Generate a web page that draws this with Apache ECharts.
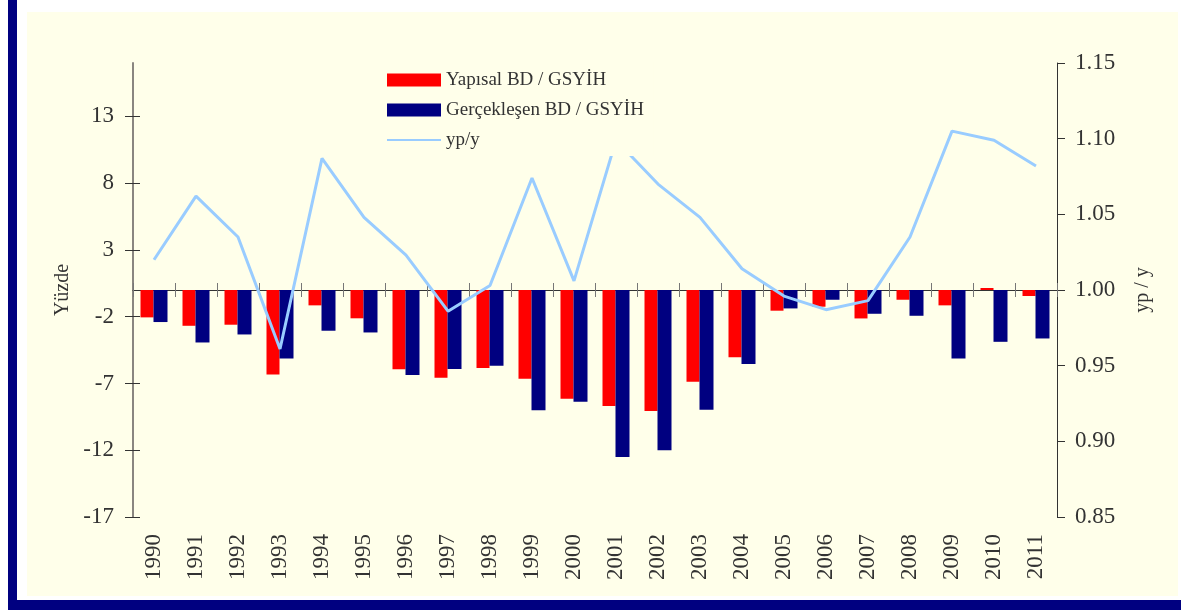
<!DOCTYPE html>
<html>
<head>
<meta charset="utf-8">
<script src="https://cdn.jsdelivr.net/npm/echarts@6/dist/echarts.min.js"></script>
<style>
    html, body { margin: 0; padding: 0; background: #ffffff; }
    #frame { position: relative; width: 1181px; height: 610px; overflow: hidden; }
    #bar-left { position: absolute; left: 8px; top: 0; width: 9px; height: 610px; background: #000080; }
    #bar-bottom { position: absolute; left: 8px; top: 600px; width: 1173px; height: 10px; background: #000080; }
    #panel { position: absolute; left: 27px; top: 12px; width: 1151px; height: 584px; background: #FFFFEA; }
    #chart { position: absolute; left: 0; top: 0; width: 1181px; height: 610px; }
</style>
</head>
<body>
<div id="frame">
    <div id="bar-left"></div>
    <div id="bar-bottom"></div>
    <div id="panel"></div>
    <div id="chart"></div>
</div>
<script>
var years = ['1990', '1991', '1992', '1993', '1994', '1995', '1996', '1997', '1998', '1999', '2000',
    '2001', '2002', '2003', '2004', '2005', '2006', '2007', '2008', '2009', '2010', '2011'];

// Yapısal BD / GSYİH (%)
var yapisal = [-2.05, -2.68, -2.60, -6.33, -1.15, -2.12, -5.93, -6.58, -5.85, -6.64, -8.15,
    -8.68, -9.07, -6.88, -5.03, -1.55, -1.25, -2.13, -0.73, -1.15, 0.15, -0.45];

// Gerçekleşen BD / GSYİH (%)
var gerceklesen = [-2.40, -3.93, -3.33, -5.13, -3.05, -3.18, -6.36, -5.92, -5.67, -9.00, -8.36,
    -12.50, -12.00, -8.97, -5.55, -1.38, -0.73, -1.78, -1.93, -5.13, -3.88, -3.63];

// yp/y (sağ eksen)
var ypy = [1.020, 1.062, 1.035, 0.961, 1.087, 1.048, 1.023, 0.986, 1.003, 1.074, 1.006,
    1.099, 1.070, 1.048, 1.014, 0.996, 0.987, 0.993, 1.035, 1.105, 1.099, 1.082];

var leftTicks = [-17, -12, -7, -2, 3, 8, 13];

var font = '"Liberation Serif", "Times New Roman", serif';
var textColor = '#333333';

var chart = echarts.init(document.getElementById('chart'), null, { renderer: 'canvas' });

var option = {
    backgroundColor: 'transparent',
    animation: false,
    textStyle: { fontFamily: font },
    grid: { left: 133, right: 124, top: 63, bottom: 93, containLabel: false },
    legend: {
        orient: 'vertical',
        left: 382,
        top: 62,
        padding: [8, 10, 6, 4],
        backgroundColor: '#FFFFEA',
        itemWidth: 54,
        itemHeight: 13,
        itemGap: 10,
        textStyle: { fontFamily: font, fontSize: 19, color: textColor, lineHeight: 20 },
        data: [
            { name: 'Yapısal BD / GSYİH', icon: 'rect' },
            { name: 'Gerçekleşen BD / GSYİH', icon: 'rect' },
            { name: 'yp/y', itemStyle: { opacity: 0 } }
        ]
    },
    xAxis: [
        {
            type: 'category',
            data: years,
            position: 'bottom',
            axisLine: { show: false, onZero: false },
            axisTick: { show: false },
            axisLabel: { rotate: 90, margin: 17, fontSize: 23, color: textColor, fontFamily: font },
            splitLine: { show: false }
        },
        {
            type: 'category',
            data: years,
            axisLine: { show: true, onZero: true, lineStyle: { color: '#333333', width: 1 } },
            axisTick: { show: true, length: 7, lineStyle: { color: '#777777' } },
            axisLabel: { show: false },
            splitLine: { show: false }
        },
        {
            type: 'category',
            data: years,
            axisLine: { show: false, onZero: true },
            axisTick: { show: true, inside: true, length: 7, lineStyle: { color: '#777777' } },
            axisLabel: { show: false },
            splitLine: { show: false }
        }
    ],
    yAxis: [
        {
            type: 'value',
            position: 'left',
            min: -17,
            max: 17,
            interval: 5,
            name: 'Yüzde',
            nameLocation: 'middle',
            nameRotate: 90,
            nameGap: 57,
            nameTextStyle: { fontFamily: font, fontSize: 20, color: textColor },
            axisLine: { show: true, lineStyle: { color: '#8a8680', width: 2 } },
            axisTick: { show: true, length: 8, customValues: leftTicks, lineStyle: { color: '#333333' } },
            axisLabel: { margin: 19, fontSize: 23, color: textColor, fontFamily: font, customValues: leftTicks },
            splitLine: { show: false }
        },
        {
            type: 'value',
            position: 'right',
            min: 0.85,
            max: 1.15,
            interval: 0.05,
            name: 'yp / y',
            nameLocation: 'middle',
            nameRotate: 90,
            nameGap: 76,
            nameTextStyle: { fontFamily: font, fontSize: 20, color: textColor },
            axisLine: { show: true, lineStyle: { color: '#333333', width: 1 } },
            axisTick: { show: true, length: 8, lineStyle: { color: '#333333' } },
            axisLabel: {
                margin: 18, fontSize: 23, color: textColor, fontFamily: font,
                formatter: function(v) { return v.toFixed(2); }
            },
            splitLine: { show: false }
        },
        {
            type: 'value',
            position: 'left',
            min: -17,
            max: 17,
            interval: 5,
            axisLine: { show: false },
            axisTick: { show: true, inside: true, length: 7, customValues: leftTicks, lineStyle: { color: '#333333' } },
            axisLabel: { show: false },
            splitLine: { show: false }
        }
    ],
    series: [
        {
            name: 'Yapısal BD / GSYİH',
            type: 'bar',
            data: yapisal,
            barWidth: 13,
            barGap: '0%',
            itemStyle: { color: '#FF0000' }
        },
        {
            name: 'Gerçekleşen BD / GSYİH',
            type: 'bar',
            data: gerceklesen,
            barWidth: 14,
            barGap: '0%',
            itemStyle: { color: '#000080' }
        },
        {
            name: 'yp/y',
            type: 'line',
            yAxisIndex: 1,
            data: ypy,
            symbol: 'none',
            lineStyle: { color: '#99CCFF', width: 3 },
            itemStyle: { color: '#99CCFF' }
        }
    ]
};

chart.setOption(option);
</script>
</body>
</html>
